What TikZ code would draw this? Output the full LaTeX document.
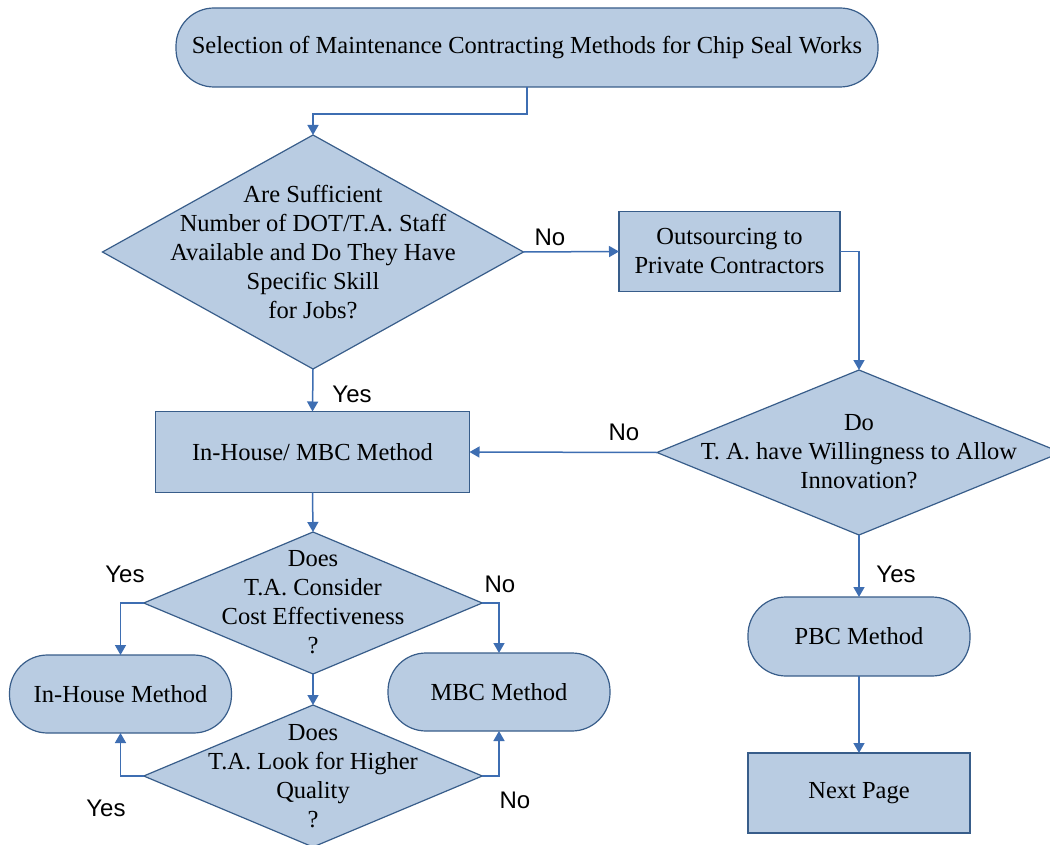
\documentclass[tikz,border=0pt]{standalone}
\usepackage{fontspec}
\setmainfont{Liberation Serif}
\newfontfamily\labfont{Liberation Sans}
\usetikzlibrary{shapes.geometric,arrows.meta}
\definecolor{fillb}{RGB}{185,204,226}
\definecolor{edgeb}{RGB}{56,93,138}
\definecolor{linkb}{RGB}{62,110,178}
\begin{document}
\begin{tikzpicture}[x=1pt,y=-1pt,
  base/.style={draw=edgeb, line width=1.2pt, fill=fillb, inner sep=0pt, outer sep=0pt,
    font=\fontsize{24.5}{29}\selectfont, align=center, text=black},
  boxr/.style={base, rectangle},
  pill/.style={base, rectangle, rounded corners=38pt},
  dia/.style={base, diamond},
  txt/.style={font=\fontsize{24.5}{29}\selectfont, align=center, text=black, inner sep=0pt},
  lab/.style={font=\labfont\fontsize{24}{28}\selectfont, text=black, inner sep=0pt},
  arr/.style={draw=linkb, line width=1.5pt, -{Triangle[length=10pt,width=11pt]}}
]
\useasboundingbox (0,0) rectangle (1050,845);
\fill[white] (0,0) rectangle (1050,845);

% nodes
\node[pill, minimum width=702pt, minimum height=79pt] (title) at (527,47.5)
  {Selection of Maintenance Contracting Methods for Chip Seal Works};

\node[dia, minimum width=421pt, minimum height=234pt] (d1) at (313,252) {};
\node[txt] (d1t) at (313,252) {Are Sufficient\\Number of DOT/T.A. Staff\\Available and Do They Have\\Specific Skill\\for Jobs?};

\node[boxr, minimum width=221pt, minimum height=80pt] (out) at (729.5,251.5)
  {Outsourcing to\\Private Contractors};

\node[dia, minimum width=404pt, minimum height=165pt] (d2) at (859,452.5) {};
\node[txt] (d2t) at (859,452) {Do\\T. A. have Willingness to Allow\\Innovation?};

\node[boxr, minimum width=314pt, minimum height=81pt] (imb) at (312.5,452)
  {In-House/ MBC Method};

\node[dia, minimum width=338.5pt, minimum height=142pt] (d3) at (313,603) {};
\node[txt] (d3t) at (313,602) {Does\\T.A. Consider\\Cost Effectiveness\\?};

\node[dia, minimum width=338.5pt, minimum height=142pt] (d4) at (313,776) {};
\node[txt] (d4t) at (313,776) {Does\\T.A. Look for Higher\\Quality\\?};

\node[pill, minimum width=222pt, minimum height=78pt] (ih) at (120.5,694) {In-House Method};
\node[pill, minimum width=222pt, minimum height=78pt] (mbc) at (499,692) {MBC Method};
\node[pill, minimum width=222pt, minimum height=79pt] (pbc) at (859,636.5) {PBC Method};
\node[boxr, minimum width=222pt, minimum height=80pt] (np) at (859,793) {Next Page};

% connectors
\draw[arr] (title.south) -- ++(0,27) -| (d1.north);
\draw[arr] (d1.east) -- (out.west);
\draw[arr] (out.east) -| (d2.north);
\draw[arr] (d2.west) -- (imb.east);
\draw[arr] (d1.south) -- (imb.north);
\draw[arr] (imb.south) -- (d3.north);
\draw[arr] (d3.west) -| (ih.north);
\draw[arr] (d3.east) -| (mbc.north);
\draw[arr] (d3.south) -- (d4.north);
\draw[arr] (d4.west) -| (ih.south);
\draw[arr] (d4.east) -| (mbc.south);
\draw[arr] (d2.south) -- (pbc.north);
\draw[arr] (pbc.south) -- (np.north);

% labels
\node[lab] (l1) at (550,237) {No};
\node[lab] (l2) at (352,394) {Yes};
\node[lab] (l3) at (624,432) {No};
\node[lab] (l4) at (896,574) {Yes};
\node[lab] (l5) at (125,574) {Yes};
\node[lab] (l6) at (500,584) {No};
\node[lab] (l7) at (106,808) {Yes};
\node[lab] (l8) at (515,800) {No};
\end{tikzpicture}
\end{document}
